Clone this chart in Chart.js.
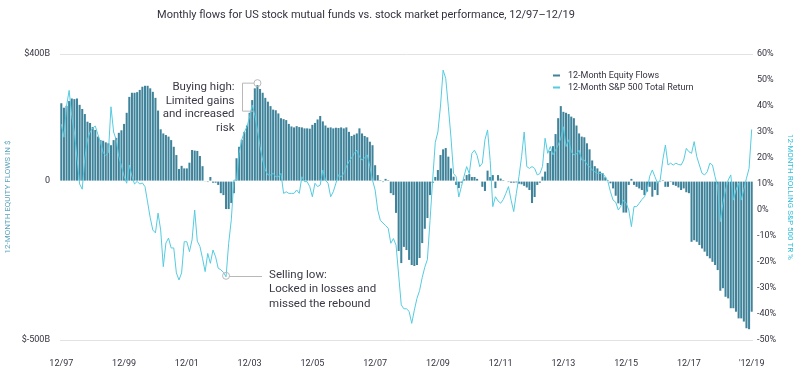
<!DOCTYPE html>
<html>
<head>
<meta charset="utf-8">
<script src="https://cdn.jsdelivr.net/npm/chart.js@4.4.1/dist/chart.umd.min.js"></script>
<style>
  html, body { margin: 0; padding: 0; background: #fff; }
  #wrap { width: 800px; height: 376px; }
</style>
</head>
<body>
<div id="wrap"><canvas id="chart" width="800" height="376"></canvas></div>
<script>
// months 12/97 .. 12/19
const startYear = 1997;
const startMonth = 12;
const monthCount = 265;
const months = [];
for (let i = 0; i < monthCount; i++) {
    const m = (startMonth - 1 + i) % 12 + 1;
    const y = startYear + Math.floor((startMonth - 1 + i) / 12);
    months.push(m + '/' + String(y).slice(2));
}

const xTickLabels = ['12/97', '12/99', '12/01', '12/03', '12/05', '12/07', '12/09', '12/11', '12/13', '12/15', '12/17', "'12/19"];

const flowTicks = [-500, 0, 400];
const flowTickLabels = ['$-500B', '0', '$400B'];

// 12-month equity flows, $B (one row per year, starting each December)
const flows = [
    245, 231, 237, 252, 260, 258, 260, 240, 227, 211, 187, 183,
    170, 161, 140, 129, 127, 122, 119, 113, 129, 136, 152, 160,
    180, 215, 265, 278, 278, 280, 287, 297, 300, 300, 292, 281,
    262, 222, 163, 150, 145, 140, 129, 108, 82, 38, 48, 40,
    40, 58, 98, 96, 95, 79, 47, -2, -3, 13, -5, -5,
    -12, -38, -44, -88, -88, -69, -38, 72, 108, 130, 155, 175,
    215, 255, 292, 302, 290, 278, 262, 250, 236, 225, 223, 213,
    198, 195, 192, 180, 172, 169, 173, 170, 169, 166, 166, 165,
    177, 183, 194, 205, 188, 175, 168, 169, 166, 168, 167, 169,
    166, 169, 155, 142, 146, 150, 166, 150, 142, 138, 124, 113,
    50, 19, 3, -3, 7, 3, -38, -44, -100, -220, -258, -207,
    -217, -248, -264, -267, -264, -242, -195, -150, -116, -44, -6, 13,
    35, 82, 100, 104, 77, 40, 14, -12, -22, -5, 6, 19,
    22, 13, 13, 7, 0, -18, -31, 33, 13, 19, -22, 19,
    8, 3, 0, -3, -5, -5, -4, -8, -10, -15, -20, -28,
    -69, -50, -12, -5, 14, 30, 57, 95, 110, 148, 198, 236,
    218, 215, 211, 203, 198, 175, 150, 140, 138, 119, 100, 65,
    47, 40, 30, 25, 12, 3, -7, -23, -46, -70, -75, -99,
    -99, -12, 7, -12, -18, -23, -28, -44, -33, -18, -49, -28,
    -44, -3, 3, -18, -18, -3, -12, -15, -20, -28, -23, -35,
    -38, -191, -186, -191, -201, -212, -222, -236, -243, -254, -264, -280,
    -345, -337, -364, -369, -400, -400, -411, -432, -432, -442, -463, -466,
    -411
];

// 12-month S&P 500 total return, %
const sp500Return = [
    33, 28, 40, 46, 36, 30, 20, 10, 8, 20, 27, 30,
    31.5, 32.3, 29, 26, 22, 21, 22, 39.7, 30, 27, 20.5, 17,
    13, 10.3, 17.3, 13, 10, 11, 10, 10.4, 9, 3, -3, -7.7,
    -8.8, -1.2, -7.7, -21.8, -12.7, -10.8, -14.6, -14.6, -24.2, -26.9, -24.2, -12.2,
    -12.2, -16, -11.5, 0, -12, -14, -18.6, -23.7, -16.7, -20.5, -15.4, -18,
    -22.4, -23, -24, -25.7, -12.8, -3.8, 11.5, 11.5, 21.8, 27, 30, 32,
    35.9, 40.4, 36.5, 30.8, 24.4, 19.2, 15.4, 13.5, 13.5, 14.1, 12.8, 12.8,
    14.1, 6.4, 7, 6.4, 6.4, 6.4, 7.7, 6.4, 12.8, 10.9, 10.9, 9,
    5.1, 10.3, 9, 9.6, 15.4, 11.5, 10.3, 5.1, 7, 10.3, 13.5, 12.8,
    14, 16.7, 18.6, 20, 21.8, 23, 20.5, 19.2, 20, 21.2, 16.7, 11.5,
    7.7, 0, -4, -5, -6, -7, -12.8, -11, -13.5, -25, -36.5, -38,
    -38, -39, -43.6, -38.5, -34, -31, -26, -22, -19, -4, 11.5, 26,
    30, 40, 53.8, 50.6, 39.7, 28, 14, 12.8, 5, 9, 13, 16.7,
    14, 21.8, 23, 21, 16.7, 18, 27, 30.8, 19, 1.3, 5.1, 3.5,
    2.6, 4, 6.4, 9, 3.8, -0.6, 6.4, 12.8, 20.5, 30, 16.7, 16,
    16.7, 16, 13.5, 14, 16.7, 27.6, 21.8, 24.4, 21.2, 23, 25, 27.6,
    32, 24.4, 27, 22.4, 21.2, 21.5, 23, 19.2, 19.2, 17.5, 16.7, 15.4,
    14.7, 14.1, 14.1, 14, 12.8, 11, 7, 3.8, 3, 0, 1.5, 3.8,
    2.6, 0, -6.4, 1.3, 1.3, 2.6, 4, 5.1, 7.7, 13, 15.4, 12.8,
    10.3, 11.5, 19.2, 25, 17.3, 18, 17.3, 18, 17.5, 17.3, 19.2, 23.7,
    22.4, 21.8, 26.3, 20.5, 17.3, 14.1, 13.5, 14.7, 18, 17.3, 12.8, 9,
    -4.5, 2.6, 7.7, 11.5, 13.5, 3.8, 7.7, 10.3, 3.8, 8, 12.2, 16,
    31
];

const buyHighIndex = 75;   // 3/04
const sellLowIndex = 63;   // 3/03

const FLOW_COLOR = '#3f839b';
const RETURN_COLOR = '#55cbe0';
const TEXT_COLOR = '#333340';
const FONT = 'Roboto, "DejaVu Sans", sans-serif';

// title, legend and the two callouts
const decorations = {
    id: 'decorations',
    afterDraw(chart) {
        const ctx = chart.ctx;
        const x = chart.scales.x;
        const yFlow = chart.scales.yFlow;
        const yRet = chart.scales.yRet;
        ctx.save();

        // title
        ctx.fillStyle = TEXT_COLOR;
        ctx.font = '11px ' + FONT;
        ctx.textAlign = 'center';
        ctx.textBaseline = 'middle';
        ctx.fillText('Monthly flows for US stock mutual funds vs. stock market performance, 12/97\u201312/19', 366, 15);

        // legend
        ctx.font = '9px ' + FONT;
        ctx.textAlign = 'left';
        ctx.fillStyle = FLOW_COLOR;
        ctx.fillRect(553, 74.5, 7, 2);
        ctx.fillStyle = RETURN_COLOR;
        ctx.fillRect(553, 86.5, 7, 2);
        ctx.fillStyle = TEXT_COLOR;
        ctx.fillText('12-Month Equity Flows', 568, 76);
        ctx.fillText('12-Month S&P 500 Total Return', 568, 88);

        ctx.strokeStyle = '#b8b8b8';
        ctx.lineWidth = 1;

        // buying high
        let cx = x.getPixelForValue(buyHighIndex);
        let cy = yFlow.getPixelForValue(flows[buyHighIndex]) - 2;
        ctx.beginPath();
        ctx.arc(cx, cy, 3.5, 0, Math.PI * 2);
        ctx.stroke();
        const bx = Math.round(cx - 15) + 0.5;
        ctx.beginPath();
        ctx.moveTo(cx - 3.5, cy);
        ctx.lineTo(bx, cy);
        ctx.lineTo(bx, cy + 28);
        ctx.lineTo(cx - 4, cy + 28);
        ctx.stroke();
        ctx.fillStyle = '#3a3a46';
        ctx.font = '11.5px ' + FONT;
        ctx.textAlign = 'right';
        ['Buying high:', 'Limited gains', 'and increased', 'risk'].forEach((t, i) => {
            ctx.fillText(t, bx - 8, cy + 4 + i * 13.7);
        });

        // selling low
        cx = x.getPixelForValue(sellLowIndex);
        cy = yRet.getPixelForValue(sp500Return[sellLowIndex]) - 1;
        ctx.beginPath();
        ctx.arc(cx, cy, 3.5, 0, Math.PI * 2);
        ctx.stroke();
        ctx.beginPath();
        ctx.moveTo(cx + 3.5, Math.round(cy) + 0.5);
        ctx.lineTo(cx + 36, Math.round(cy) + 0.5);
        ctx.stroke();
        ctx.textAlign = 'left';
        ['Selling low:', 'Locked in losses and', 'missed the rebound'].forEach((t, i) => {
            ctx.fillText(t, cx + 43, cy - 1 + i * 14.5);
        });

        ctx.restore();
    }
};

const tickFont = { family: FONT, size: 9 };

const config = {
    type: 'bar',
    data: {
        labels: months,
        datasets: [
            {
                type: 'line',
                label: '12-Month S&P 500 Total Return',
                data: sp500Return,
                yAxisID: 'yRet',
                borderColor: RETURN_COLOR,
                borderWidth: 1,
                pointRadius: 0,
                tension: 0,
                order: 0
            },
            {
                type: 'bar',
                label: '12-Month Equity Flows',
                data: flows,
                yAxisID: 'yFlow',
                backgroundColor: FLOW_COLOR,
                barPercentage: 0.78,
                categoryPercentage: 1,
                order: 1
            }
        ]
    },
    options: {
        responsive: false,
        animation: false,
        layout: { padding: { top: 54, left: 0, right: 0, bottom: 0 } },
        plugins: {
            legend: { display: false },
            tooltip: { enabled: false },
            title: { display: false }
        },
        scales: {
            x: {
                grid: { display: false, drawTicks: false },
                border: { display: false },
                ticks: {
                    autoSkip: false,
                    maxRotation: 0,
                    padding: 18,
                    font: tickFont,
                    color: TEXT_COLOR,
                    callback: (v, i) => i % 24 === 0 ? xTickLabels[i / 24] : null
                },
                afterFit: s => { s.height = 36; }
            },
            yFlow: {
                position: 'left',
                min: -500,
                max: 400,
                afterBuildTicks: s => { s.ticks = flowTicks.map(v => ({ value: v })); },
                ticks: {
                    padding: 10,
                    font: tickFont,
                    color: TEXT_COLOR,
                    callback: v => flowTickLabels[flowTicks.indexOf(v)]
                },
                grid: {
                    drawTicks: false,
                    color: c => c.tick && c.tick.value === 0 ? 'rgba(0,0,0,0)' : '#e2e2e2'
                },
                border: { display: false },
                title: {
                    display: true,
                    text: '12-MONTH EQUITY FLOWS IN $',
                    color: '#5aa3bb',
                    font: { family: FONT, size: 8 },
                    padding: { top: 3, bottom: 0 }
                },
                afterFit: s => { s.width = 60; }
            },
            yRet: {
                position: 'right',
                min: -50,
                max: 60,
                ticks: {
                    stepSize: 10,
                    padding: 4,
                    font: tickFont,
                    color: TEXT_COLOR,
                    callback: v => v + '%'
                },
                grid: { display: false, drawTicks: false },
                border: { display: false },
                title: {
                    display: true,
                    text: '12-MONTH ROLLING S&P 500 TR %',
                    color: '#30bcd8',
                    font: { family: FONT, size: 8 },
                    padding: { top: 5, bottom: 0 }
                },
                afterFit: s => { s.width = 47; }
            }
        }
    },
    plugins: [decorations]
};

new Chart(document.getElementById('chart'), config);
</script>
</body>
</html>
